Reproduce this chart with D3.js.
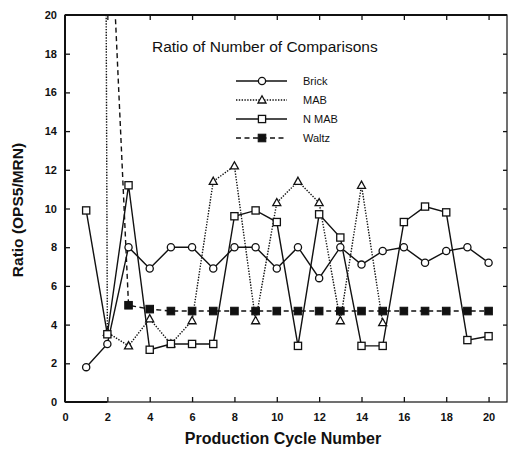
<!DOCTYPE html>
<html><head><meta charset="utf-8">
<script src="https://cdn.jsdelivr.net/npm/d3@7"></script>
<style>body{margin:0;background:#fff}svg{display:block}</style>
</head><body>
<script>
const cycles = [1,2,3,4,5,6,7,8,9,10,11,12,13,14,15,16,17,18,19,20];
const brick = [1.8,3.0,8.0,6.9,8.0,8.0,6.9,8.0,8.0,6.9,8.0,6.4,8.0,7.1,7.8,8.0,7.2,7.8,8.0,7.2];
const mab   = [300,3.6,2.9,4.3,3.0,4.2,11.4,12.2,4.2,10.3,11.4,10.3,4.2,11.2,4.1,null,null,null,null,null];
const nmab  = [9.9,3.5,11.2,2.7,3.0,3.0,3.0,9.6,9.9,9.3,2.9,9.7,8.5,2.9,2.9,9.3,10.1,9.8,3.2,3.4];
const waltz = [null,29,5.0,4.8,4.7,4.7,4.7,4.7,4.7,4.7,4.7,4.7,4.7,4.7,4.7,4.7,4.7,4.7,4.7,4.7];
const xTicks = [0,2,4,6,8,10,12,14,16,18,20];
const yTicks = [0,2,4,6,8,10,12,14,16,18,20];
const seriesNames = ["Brick","MAB","N MAB","Waltz"];
const chartTitle = "Ratio of Number of Comparisons";
const xTitle = "Production Cycle Number";
const yTitle = "Ratio (OPS5/MRN)";

const W = 508, H = 450;
const L = 65, R = 507, T = 15, B = 402;
const x = d3.scaleLinear().domain([0, 20.87]).range([L, R]);
const y = d3.scaleLinear().domain([0, 20]).range([B, T]);
const ink = "#111";

const svg = d3.select("body").append("svg").attr("width", W).attr("height", H)
  .style("font-family", "'Liberation Sans', Arial, sans-serif");

svg.append("defs").append("clipPath").attr("id","clip")
  .append("rect").attr("x", L).attr("y", T).attr("width", R - L).attr("height", B - T);

// frame
svg.append("rect").attr("x", L).attr("y", T).attr("width", R - L).attr("height", B - T)
  .attr("fill","none").attr("stroke", ink).attr("stroke-width", 1.2);
svg.append("line").attr("x1", L).attr("x2", L).attr("y1", T).attr("y2", B).attr("stroke", ink).attr("stroke-width", 2);
svg.append("line").attr("x1", L).attr("x2", x(2)).attr("y1", B).attr("y2", B).attr("stroke", ink).attr("stroke-width", 2.2);
svg.append("line").attr("x1", L).attr("x2", R).attr("y1", T).attr("y2", T).attr("stroke", ink).attr("stroke-width", 2);

// axes (ticks inward)
const gx = svg.append("g").attr("transform", `translate(0,${B})`)
  .call(d3.axisBottom(x).tickValues(xTicks).tickSizeInner(-5).tickSizeOuter(0).tickPadding(11));
const gxt = svg.append("g").attr("transform", `translate(0,${T})`)
  .call(d3.axisTop(x).tickValues(xTicks.slice(1)).tickSizeInner(-5).tickSizeOuter(0).tickFormat(""));
const gy = svg.append("g").attr("transform", `translate(${L},0)`)
  .call(d3.axisLeft(y).tickValues(yTicks).tickSizeInner(-5).tickSizeOuter(0).tickPadding(8));
const gyr = svg.append("g").attr("transform", `translate(${R},0)`)
  .call(d3.axisRight(y).tickValues(yTicks.slice(1,-1)).tickSizeInner(-4).tickSizeOuter(0).tickFormat(""));
[gx,gxt,gy,gyr].forEach(g => {
  g.select(".domain").remove();
  g.selectAll("line").attr("stroke", ink).attr("stroke-width", 1.3);
  g.selectAll("text").attr("fill", ink).style("font-size","11px").style("font-weight","bold");
});
gy.selectAll(".tick line").filter(d => d === 0 || d === 20).remove();
gx.selectAll(".tick line").filter(d => d === 0).remove();

// axis titles
svg.append("text").attr("x", 283).attr("y", 444).attr("text-anchor","middle")
  .style("font-size","16px").style("font-weight","bold").attr("fill", ink).text(xTitle);
svg.append("text").attr("transform","translate(23,210) rotate(-90)").attr("text-anchor","middle")
  .style("font-size","15.5px").style("font-weight","bold").attr("fill", ink).text(yTitle);

// series
const series = [
  {name: seriesNames[0], vals: brick, dash: null,     marker: "circle"},
  {name: seriesNames[1], vals: mab,   dash: "1.4,1.4", marker: "triangle"},
  {name: seriesNames[2], vals: nmab,  dash: null,     marker: "square"},
  {name: seriesNames[3], vals: waltz, dash: "5,3.5",  marker: "fsquare"}
];
const plot = svg.append("g").attr("clip-path","url(#clip)");
const line = d3.line().defined(d => d.v != null).x(d => x(d.c)).y(d => y(d.v));

function drawMarker(g, type, cx, cy) {
  if (type === "circle") g.append("circle").attr("cx", cx).attr("cy", cy).attr("r", 3.6)
      .attr("fill","#fff").attr("stroke", ink).attr("stroke-width", 1.3);
  else if (type === "square") g.append("rect").attr("x", cx-3.6).attr("y", cy-3.6).attr("width", 7.2).attr("height", 7.2)
      .attr("fill","#fff").attr("stroke", ink).attr("stroke-width", 1.3);
  else if (type === "fsquare") g.append("rect").attr("x", cx-3.8).attr("y", cy-3.8).attr("width", 7.6).attr("height", 7.6)
      .attr("fill", ink).attr("stroke", ink).attr("stroke-width", 1);
  else if (type === "triangle") g.append("path")
      .attr("d", `M${cx},${cy-4.2}L${cx+4},${cy+3}L${cx-4},${cy+3}Z`)
      .attr("fill","#fff").attr("stroke", ink).attr("stroke-width", 1.3);
}

series.forEach(s => {
  const pts = cycles.map((c,i) => ({c, v: s.vals[i]}));
  plot.append("path").datum(pts).attr("d", line).attr("fill","none")
    .attr("stroke", ink).attr("stroke-width", 1.4).attr("stroke-dasharray", s.dash);
});
series.forEach(s => {
  cycles.forEach((c,i) => {
    const v = s.vals[i];
    if (v != null) drawMarker(plot, s.marker, x(c), y(v));
  });
});

// legend
svg.append("text").attr("x", 152).attr("y", 52).style("font-size","15.5px").attr("fill", ink).text(chartTitle);
const leg = svg.append("g");
series.forEach((s, i) => {
  const ly = 81 + i * 19;
  leg.append("line").attr("x1", 236).attr("x2", 287).attr("y1", ly).attr("y2", ly)
    .attr("stroke", ink).attr("stroke-width", 1.3).attr("stroke-dasharray", s.dash);
  drawMarker(leg, s.marker, 262, ly);
  leg.append("text").attr("x", 303).attr("y", ly + 4).style("font-size","11px").attr("fill", ink).text(s.name);
});
</script>
</body></html>
